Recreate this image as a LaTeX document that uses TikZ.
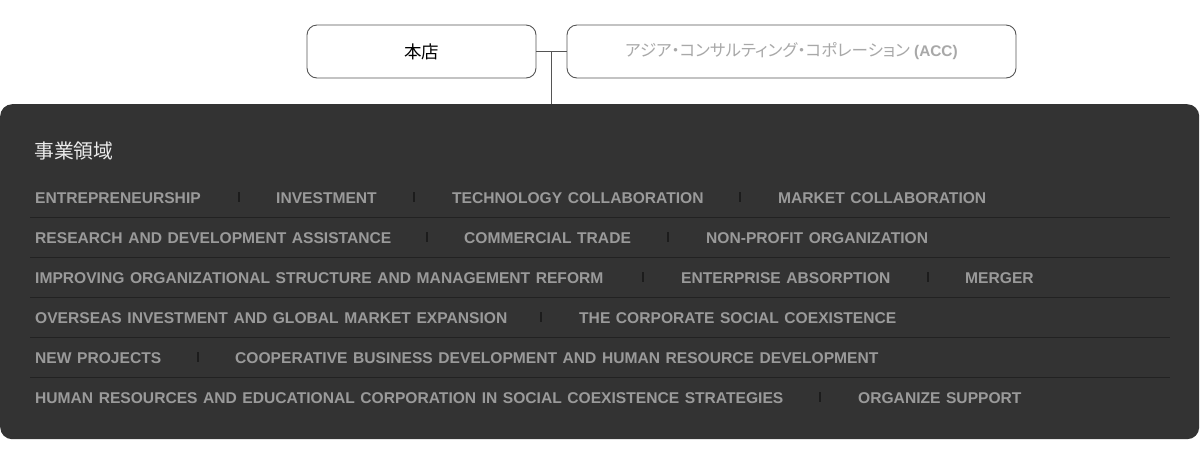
\documentclass[tikz,border=0pt]{standalone}
\usepackage{fontspec}
\setmainfont{Liberation Sans}
\newfontfamily\itemfont[WordSpace=1.28]{Liberation Sans}
\newfontfamily\jpfont{Noto Sans CJK JP}
\newfontfamily\jppfont[RawFeature=+palt]{Noto Sans CJK JP}
\definecolor{panel}{HTML}{333333}
\definecolor{rule}{HTML}{222222}
\definecolor{itemgray}{HTML}{9A9A9A}
\definecolor{bar}{HTML}{1C1C1C}
\definecolor{boxline}{HTML}{555555}
\definecolor{accgray}{HTML}{A8A8A8}
\tikzset{
  topbox/.style={draw=boxline, line width=0.9pt, rounded corners=10pt, fill=white},
  item/.style={anchor=base west, inner sep=0pt, text=itemgray, font=\itemfont\fontsize{15.6}{16}\selectfont\bfseries},
  sepbar/.style={fill=bar, draw=none, minimum width=2pt, minimum height=10pt, inner sep=0pt},
  rowrule/.style={draw=rule, line width=1pt},
  conn/.style={draw=boxline, line width=0.9pt}
}
\begin{document}
\begin{tikzpicture}[x=1pt,y=-1pt]
\useasboundingbox (0,0) rectangle (1200,475);
% top boxes
\node[topbox, minimum width=229pt, minimum height=53pt, font=\jpfont\fontsize{17.5}{19}\selectfont] (honten) at (421.5,51.5) {本店};
\node[topbox, minimum width=449pt, minimum height=53pt, text=accgray] (acc) at (791.5,51.5) {{\jppfont\fontsize{16.5}{18}\selectfont アジア・コンサルティング・コポレーション}{\fontsize{15.4}{17}\selectfont\ \bfseries(ACC)}};
% panel
\node[fill=panel, rounded corners=12pt, minimum width=1199pt, minimum height=335pt, inner sep=0pt, anchor=north west] (panel) at (0,104) {};
% connectors
\coordinate (j) at (551,51.5);
\draw[conn] (honten.east) -- (acc.west);
\draw[conn] (j) -- (j |- panel.north);
% heading
\node[anchor=base west, inner sep=0pt, text=white!92!black, font=\jpfont\fontsize{19.8}{22}\selectfont] (head) at (34,158) {事業領域};
% row rules
\foreach \yy/\nm in {217/r1,257/r2,297/r3,337/r4,377/r5}{
  \coordinate (\nm a) at (30,\yy);
  \coordinate (\nm b) at (1170,\yy);
  \draw[rowrule] (\nm a) -- (\nm b);
}
% row 1
\node[item] (a1) at (35,203) {ENTREPRENEURSHIP};
\node[sepbar] (s11) at (239,197) {};
\node[item] (a2) at (276,203) {INVESTMENT};
\node[sepbar] (s12) at (414,197) {};
\node[item] (a3) at (452,203) {TECHNOLOGY COLLABORATION};
\node[sepbar] (s13) at (740,197) {};
\node[item] (a4) at (778,203) {MARKET COLLABORATION};
% row 2
\node[item] (b1) at (35,243) {RESEARCH AND DEVELOPMENT ASSISTANCE};
\node[sepbar] (s21) at (427,237) {};
\node[item] (b2) at (464,243) {COMMERCIAL TRADE};
\node[sepbar] (s22) at (668,237) {};
\node[item] (b3) at (706,243) {NON-PROFIT ORGANIZATION};
% row 3
\node[item] (c1) at (35,283) {IMPROVING ORGANIZATIONAL STRUCTURE AND MANAGEMENT REFORM};
\node[sepbar] (s31) at (643,277) {};
\node[item] (c2) at (681,283) {ENTERPRISE ABSORPTION};
\node[sepbar] (s32) at (928,277) {};
\node[item] (c3) at (965,283) {MERGER};
% row 4
\node[item] (d1) at (35,323) {OVERSEAS INVESTMENT AND GLOBAL MARKET EXPANSION};
\node[sepbar] (s41) at (541,317) {};
\node[item] (d2) at (579,323) {THE CORPORATE SOCIAL COEXISTENCE};
% row 5
\node[item] (e1) at (35,363) {NEW PROJECTS};
\node[sepbar] (s51) at (198,357) {};
\node[item] (e2) at (235,363) {COOPERATIVE BUSINESS DEVELOPMENT AND HUMAN RESOURCE DEVELOPMENT};
% row 6
\node[item] (f1) at (35,403) {HUMAN RESOURCES AND EDUCATIONAL CORPORATION IN SOCIAL COEXISTENCE STRATEGIES};
\node[sepbar] (s61) at (820,397) {};
\node[item] (f2) at (858,403) {ORGANIZE SUPPORT};
\end{tikzpicture}
\end{document}
